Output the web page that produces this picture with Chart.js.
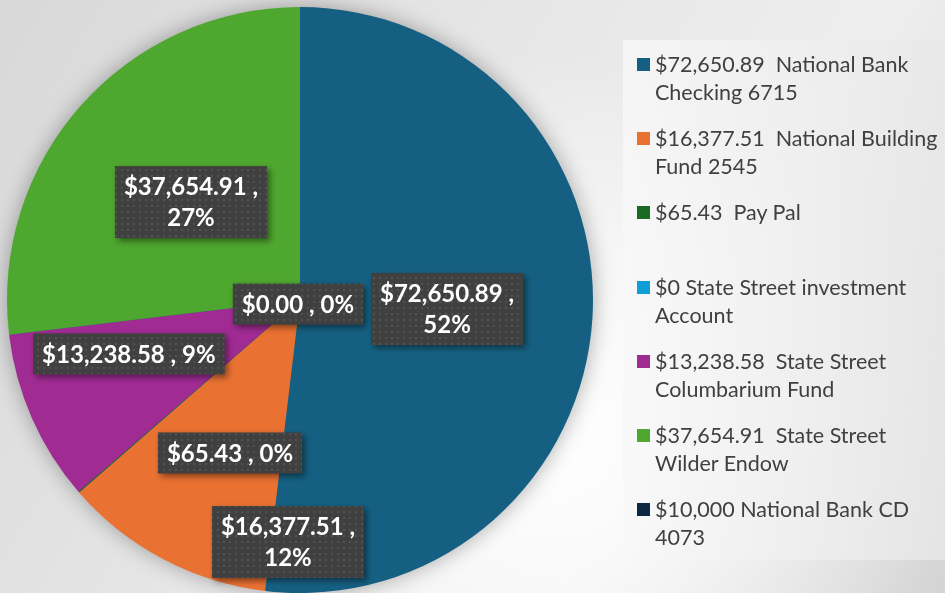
<!DOCTYPE html>
<html>
<head>
<meta charset="utf-8">
<script src="https://cdn.jsdelivr.net/npm/chart.js@4"></script>
<style>
  html, body { margin: 0; padding: 0; }
  body {
    width: 945px; height: 593px; overflow: hidden; position: relative;
    background:
      radial-gradient(ellipse 420px 380px at 540px 430px, rgba(255,255,255,1) 0%, rgba(255,255,255,0.6) 45%, rgba(255,255,255,0) 100%),
      linear-gradient(120deg, #d8d8d8 0%, #e6e6e6 40%, #eeeeee 70%, #d4d4d4 100%);
  }
  #panel {
    position: absolute; left: 623px; top: 40px; width: 322px; height: 520px;
    background: linear-gradient(to right, rgba(248,248,248,0.8), rgba(232,232,232,0.8));
  }
  #chart { position: absolute; left: 0; top: 0; }
  #legend {
    position: absolute; left: 637px; top: 50px; width: 308px;
    font-family: Lato, "Open Sans", sans-serif; font-size: 21.5px; color: #404040;
  }
  .item { position: relative; height: 74.2px; padding-left: 18px; line-height: 28px; white-space: pre; }
  .box { position: absolute; left: 0; top: 8px; width: 13px; height: 13px; }
</style>
</head>
<body>
<div id="panel"></div>
<canvas id="chart" width="945" height="593"></canvas>
<div id="legend"></div>
<script>
// Chart data
const accounts = [
  'National Bank Checking 6715',
  'National Building Fund 2545',
  'Pay Pal',
  'State Street investment Account',
  'State Street Columbarium Fund',
  'State Street Wilder Endow',
  'National Bank CD 4073'
];
const balances = [72650.89, 16377.51, 65.43, 0, 13238.58, 37654.91, null];
const legendLines = [
  ['$72,650.89  National Bank', 'Checking 6715'],
  ['$16,377.51  National Building', 'Fund 2545'],
  ['$65.43  Pay Pal'],
  ['$0 State Street investment', 'Account'],
  ['$13,238.58  State Street', 'Columbarium Fund'],
  ['$37,654.91  State Street', 'Wilder Endow'],
  ['$10,000 National Bank CD', '4073']
];
const sliceColors = ['#156082', '#E97132', '#196B24', '#0F9ED5', '#A02B93', '#4EA72E', '#0E2841'];

// data label placement (offset from pie centre, in radii) and wrapping
const labelOffsets = [[0.502, 0.031], [-0.041, 0.826], [-0.239, 0.522], [-0.007, 0.014], [-0.584, 0.184], [-0.372, -0.334], null];
const labelWrap = [true, true, false, false, false, true, false];

// Build legend
const legendEl = document.getElementById('legend');
legendLines.forEach(function(lines, i) {
  const div = document.createElement('div');
  div.className = 'item';
  const box = document.createElement('span');
  box.className = 'box';
  box.style.background = sliceColors[i];
  div.appendChild(box);
  div.appendChild(document.createTextNode(lines.join('\n')));
  legendEl.appendChild(div);
});

// Dotted pattern for the label boxes
function makePattern(ctx) {
  const p = document.createElement('canvas');
  p.width = 6; p.height = 6;
  const pc = p.getContext('2d');
  pc.fillStyle = '#404040';
  pc.fillRect(0, 0, 6, 6);
  pc.fillStyle = '#525252';
  pc.fillRect(1, 1, 2, 2);
  return ctx.createPattern(p, 'repeat');
}

const pieShadow = {
  id: 'pieShadow',
  beforeDatasetsDraw(chart) {
    const arc = chart.getDatasetMeta(0).data[0];
    if (!arc) return;
    const ctx = chart.ctx;
    ctx.save();
    ctx.shadowColor = 'rgba(0,0,0,0.35)';
    ctx.shadowBlur = 22;
    ctx.fillStyle = '#156082';
    ctx.beginPath();
    ctx.arc(arc.x, arc.y, arc.outerRadius - 1, 0, Math.PI * 2);
    ctx.fill();
    ctx.restore();
  }
};

const dataLabels = {
  id: 'dataLabels',
  afterDatasetsDraw(chart) {
    const ctx = chart.ctx;
    const meta = chart.getDatasetMeta(0);
    const total = balances.reduce((a, b) => a + (b || 0), 0);
    const pattern = makePattern(ctx);
    meta.data.forEach(function(arc, i) {
      const v = balances[i];
      if (v === null || !labelOffsets[i]) return;
      const money = '$' + v.toLocaleString('en-US', { minimumFractionDigits: 2, maximumFractionDigits: 2 });
      const pct = Math.round(v / total * 100) + '%';
      const lines = labelWrap[i] ? [money + ' ,', pct] : [money + ' , ' + pct];
      const cx = arc.x + labelOffsets[i][0] * arc.outerRadius;
      const cy = arc.y + labelOffsets[i][1] * arc.outerRadius;
      ctx.save();
      ctx.font = 'bold 24px Lato, "Open Sans", sans-serif';
      const w = Math.max.apply(null, lines.map(l => ctx.measureText(l).width)) + 18;
      const lh = 31;
      const h = lines.length * lh + 10;
      ctx.shadowColor = 'rgba(0,0,0,0.45)';
      ctx.shadowBlur = 6;
      ctx.shadowOffsetX = 3;
      ctx.shadowOffsetY = 3;
      ctx.fillStyle = pattern;
      ctx.fillRect(cx - w / 2, cy - h / 2, w, h);
      ctx.shadowColor = 'transparent';
      ctx.fillStyle = '#ffffff';
      ctx.textAlign = 'center';
      ctx.textBaseline = 'middle';
      lines.forEach(function(l, j) {
        ctx.fillText(l, cx, cy - (lines.length - 1) * lh / 2 + j * lh + 1);
      });
      ctx.restore();
    });
  }
};

new Chart(document.getElementById('chart'), {
  type: 'pie',
  data: {
    labels: accounts,
    datasets: [{
      data: balances,
      backgroundColor: sliceColors,
      borderWidth: 0
    }]
  },
  options: {
    responsive: false,
    animation: false,
    devicePixelRatio: 1,
    layout: { padding: { left: 7, right: 352, top: 7, bottom: 0 } },
    plugins: {
      legend: { display: false },
      tooltip: { enabled: false }
    }
  },
  plugins: [pieShadow, dataLabels]
});
</script>
</body>
</html>
